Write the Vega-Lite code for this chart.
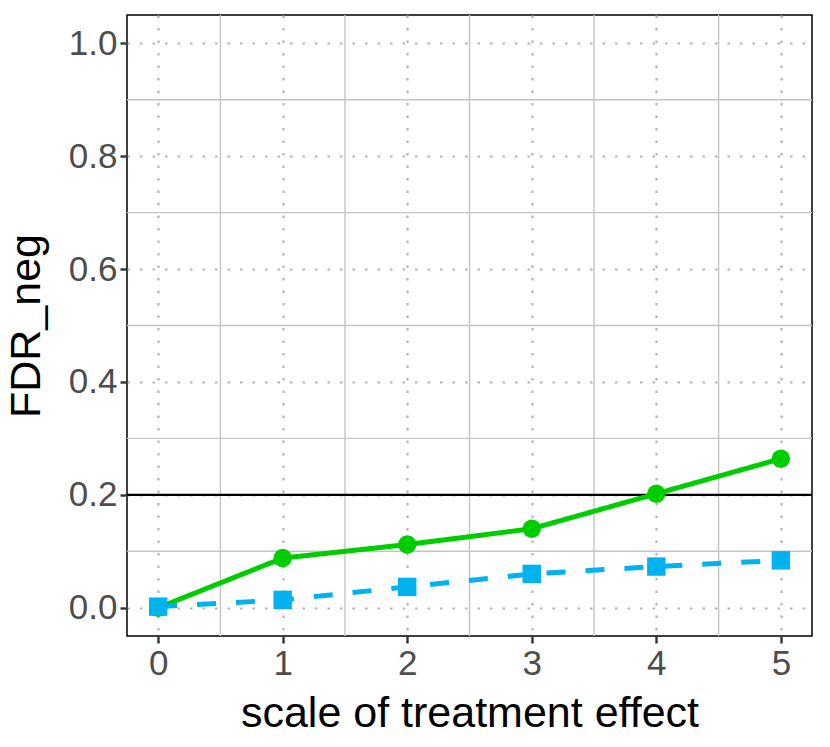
{
  "$schema": "https://vega.github.io/schema/vega-lite/v6.json",
  "width": 685,
  "height": 621,
  "autosize": {"type": "none"},
  "padding": {"left": 127, "top": 15, "right": 18, "bottom": 111},
  "background": "white",
  "config": {
    "font": "Liberation Sans",
    "view": {"stroke": "black", "strokeWidth": 1.5},
    "axis": {
      "domain": false,
      "grid": true,
      "gridColor": "#b3b3b3",
      "gridDash": [2.5, 10],
      "gridWidth": 2.2,
      "labelFont": "Liberation Sans",
      "labelFontSize": 35,
      "labelColor": "#4d4d4d",
      "tickColor": "#333333",
      "tickWidth": 2.4,
      "tickSize": 7,
      "labelPadding": 3,
      "titleFont": "Liberation Sans",
      "titleFontSize": 43,
      "titleFontWeight": "normal",
      "titleColor": "black"
    }
  },
  "datasets": {
    "series": [
      {"effect": 0, "fdr": 0.0, "method": "A"},
      {"effect": 1, "fdr": 0.088, "method": "A"},
      {"effect": 2, "fdr": 0.112, "method": "A"},
      {"effect": 3, "fdr": 0.14, "method": "A"},
      {"effect": 4, "fdr": 0.202, "method": "A"},
      {"effect": 5, "fdr": 0.264, "method": "A"},
      {"effect": 0, "fdr": 0.002, "method": "B"},
      {"effect": 1, "fdr": 0.014, "method": "B"},
      {"effect": 2, "fdr": 0.037, "method": "B"},
      {"effect": 3, "fdr": 0.06, "method": "B"},
      {"effect": 4, "fdr": 0.073, "method": "B"},
      {"effect": 5, "fdr": 0.084, "method": "B"}
    ],
    "xminor": [{"v": 0.5}, {"v": 1.5}, {"v": 2.5}, {"v": 3.5}, {"v": 4.5}],
    "yminor": [{"v": 0.1}, {"v": 0.3}, {"v": 0.5}, {"v": 0.7}, {"v": 0.9}],
    "threshold": [{"v": 0.2}]
  },
  "encoding": {
    "x": {
      "type": "quantitative",
      "scale": {"domain": [-0.25, 5.25], "nice": false, "zero": false},
      "axis": {"values": [0, 1, 2, 3, 4, 5], "format": "d", "title": "scale of treatment effect", "titlePadding": 11}
    },
    "y": {
      "type": "quantitative",
      "scale": {"domain": [-0.05, 1.05], "nice": false, "zero": false},
      "axis": {"values": [0, 0.2, 0.4, 0.6, 0.8, 1.0], "format": ".1f", "title": "FDR_neg", "titlePadding": 20}
    }
  },
  "layer": [
    {
      "data": {"name": "xminor"},
      "mark": {"type": "rule", "color": "#c4c4c4", "strokeWidth": 1.4},
      "encoding": {"x": {"field": "v", "type": "quantitative"}}
    },
    {
      "data": {"name": "yminor"},
      "mark": {"type": "rule", "color": "#c4c4c4", "strokeWidth": 1.4},
      "encoding": {"y": {"field": "v", "type": "quantitative"}}
    },
    {
      "data": {"name": "threshold"},
      "mark": {"type": "rule", "color": "black", "strokeWidth": 2.3},
      "encoding": {"y": {"field": "v", "type": "quantitative"}}
    },
    {
      "data": {"name": "series"},
      "mark": {"type": "line", "strokeWidth": 5},
      "encoding": {
        "x": {"field": "effect", "type": "quantitative"},
        "y": {"field": "fdr", "type": "quantitative"},
        "color": {"field": "method", "type": "nominal", "scale": {"domain": ["A", "B"], "range": ["#00cd00", "#00b2ee"]}, "legend": null},
        "strokeDash": {"field": "method", "type": "nominal", "scale": {"domain": ["A", "B"], "range": [[1, 0], [19, 20]]}, "legend": null}
      }
    },
    {
      "data": {"name": "series"},
      "mark": {"type": "point", "filled": true, "opacity": 1},
      "encoding": {
        "x": {"field": "effect", "type": "quantitative"},
        "y": {"field": "fdr", "type": "quantitative"},
        "color": {"field": "method", "type": "nominal", "scale": {"domain": ["A", "B"], "range": ["#00cd00", "#00b2ee"]}, "legend": null},
        "shape": {"field": "method", "type": "nominal", "scale": {"domain": ["A", "B"], "range": ["circle", "square"]}, "legend": null},
        "size": {"value": 340}
      }
    }
  ]
}
